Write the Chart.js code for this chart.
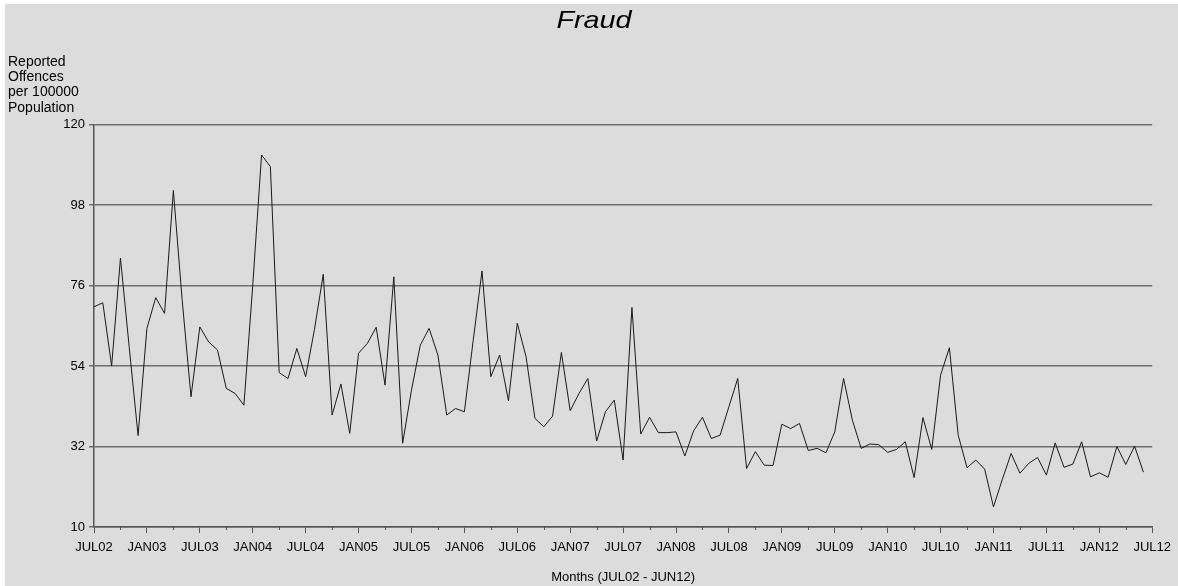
<!DOCTYPE html>
<html>
<head>
<meta charset="utf-8">
<script src="https://cdn.jsdelivr.net/npm/chart.js@4/dist/chart.umd.min.js"></script>
<style>
  body { margin: 0; background: #ffffff; }
  #wrap { position: absolute; left: 5px; top: 4px; width: 1173px; height: 582px; background: #dcdcdc; }
  canvas { display: block; }
</style>
</head>
<body>
<div id="wrap"><canvas id="fraud" width="1173" height="582"></canvas></div>
<script>
// month names and years for the x categories (JUL02 .. JUL12)
const monthNames = ['JAN','FEB','MAR','APR','MAY','JUN','JUL','AUG','SEP','OCT','NOV','DEC'];
const years = ['02','03','04','05','06','07','08','09','10','11','12'];

// reported offences per 100000 population, JUL02 - JUN12
const fraudRate = [
  70.2, 71.3, 54.0, 83.5, 59.0, 35.0, 64.3, 72.7, 68.4, 102.0, 72.0, 45.6,
  64.7, 60.6, 58.4, 47.9, 46.5, 43.3, 76.0, 111.7, 108.5, 52.2, 50.6, 58.8,
  51.1, 64.0, 79.1, 40.6, 49.1, 35.6, 57.5, 60.2, 64.6, 48.8, 78.4, 32.9,
  47.4, 59.7, 64.3, 57.0, 40.6, 42.4, 41.5, 61.0, 80.0, 51.1, 57.0, 44.5,
  65.7, 56.5, 39.7, 37.4, 40.3, 57.7, 41.8, 46.5, 50.6, 33.5, 41.5, 44.7,
  28.3, 70.0, 35.4, 40.0, 35.8, 35.8, 36.0, 29.4, 36.3, 40.0, 34.2, 35.1,
  42.9, 50.6, 26.0, 30.6, 26.9, 26.8, 38.1, 36.9, 38.3, 30.9, 31.5, 30.3,
  36.0, 50.6, 39.2, 31.5, 32.7, 32.5, 30.4, 31.2, 33.3, 23.5, 39.9, 31.2,
  51.5, 59.0, 35.1, 26.2, 28.3, 25.8, 15.5, 23.0, 30.1, 24.7, 27.4, 29.0,
  24.2, 33.0, 26.3, 27.2, 33.3, 23.7, 24.8, 23.6, 32.0, 27.1, 32.1, 25.0
];

// y axis ticks
const yTicks = [10, 32, 54, 76, 98, 120];

const titleText = 'Fraud';
const yTitleLines = ['Reported', 'Offences', 'per 100000', 'Population'];
const xTitleText = 'Months (JUL02 - JUN12)';

// build category labels JUL02 ... JUL12 (121 positions, 120 data points)
const monthLabels = [];
years.forEach((yr, yi) => {
  monthNames.forEach((m, mi) => {
    if (yi === 0 && mi < 6) return;
    if (yi === years.length - 1 && mi > 6) return;
    monthLabels.push(m + yr);
  });
});

Chart.defaults.font.family = "'Liberation Sans', Arial, sans-serif";
Chart.defaults.color = '#000000';

// short minor tick marks every quarter between the labelled ones
const minorTicks = {
  id: 'minorTicks',
  afterDraw(chart) {
    const x = chart.scales.x;
    const ctx = chart.ctx;
    ctx.save();
    ctx.strokeStyle = '#555555';
    ctx.lineWidth = 1;
    for (let i = 0; i < monthLabels.length; i++) {
      if (i % 6 !== 3) continue;
      const px = Math.round(x.getPixelForTick(i)) + 0.5;
      ctx.beginPath();
      ctx.moveTo(px, x.top);
      ctx.lineTo(px, x.top + 3);
      ctx.stroke();
    }
    ctx.restore();
  }
};

// the big italic title is centred on the whole picture, a bit wide
const wideTitle = {
  id: 'wideTitle',
  afterDraw(chart) {
    const ctx = chart.ctx;
    ctx.save();
    ctx.fillStyle = '#000000';
    ctx.font = "italic 24px 'Liberation Sans', Arial, sans-serif";
    ctx.textAlign = 'center';
    ctx.textBaseline = 'alphabetic';
    ctx.translate(589, 23.5);
    ctx.scale(1.2, 1);
    ctx.fillText(titleText, 0, 0);
    ctx.restore();
  }
};

new Chart(document.getElementById('fraud'), {
  type: 'line',
  data: {
    labels: monthLabels,
    datasets: [{
      label: titleText,
      data: fraudRate,
      borderColor: '#1a1a1a',
      borderWidth: 1,
      pointRadius: 0,
      tension: 0,
      fill: false
    }]
  },
  options: {
    responsive: false,
    animation: false,
    layout: { padding: { left: 3, right: 25, top: 0, bottom: 0 } },
    plugins: {
      legend: { display: false },
      tooltip: { enabled: false },
      title: { display: false },
      subtitle: {
        display: true,
        text: yTitleLines,
        align: 'start',
        font: { size: 14, lineHeight: 15.3 / 14 },
        color: '#000000',
        padding: { top: 50.3, bottom: 9.1 }
      }
    },
    scales: {
      x: {
        type: 'category',
        offset: false,
        afterFit: (s) => { s.height = 59; },
        border: { display: true, color: '#555555', width: 1.5 },
        grid: {
          drawOnChartArea: false,
          drawTicks: true,
          tickLength: 6,
          color: (c) => (c.index % 6 === 0 ? '#555555' : 'rgba(0,0,0,0)')
        },
        ticks: {
          autoSkip: false,
          maxRotation: 0,
          minRotation: 0,
          padding: 7,
          font: { size: 13 },
          color: '#000000',
          callback: (v, i) => (i % 6 === 0 ? monthLabels[i] : '')
        },
        title: {
          display: true,
          text: xTitleText,
          font: { size: 13 },
          color: '#000000',
          padding: { top: 0, bottom: 1 }
        }
      },
      y: {
        min: yTicks[0],
        max: yTicks[yTicks.length - 1],
        afterFit: (s) => { s.width = 86; },
        afterBuildTicks: (s) => { s.ticks = yTicks.map(v => ({ value: v })); },
        border: { display: true, color: '#555555', width: 1.5 },
        grid: {
          color: '#6e6e6e',
          lineWidth: 1.5,
          tickLength: 5
        },
        ticks: {
          padding: 4,
          font: { size: 13 },
          color: '#000000'
        }
      }
    }
  },
  plugins: [minorTicks, wideTitle]
});
</script>
</body>
</html>
